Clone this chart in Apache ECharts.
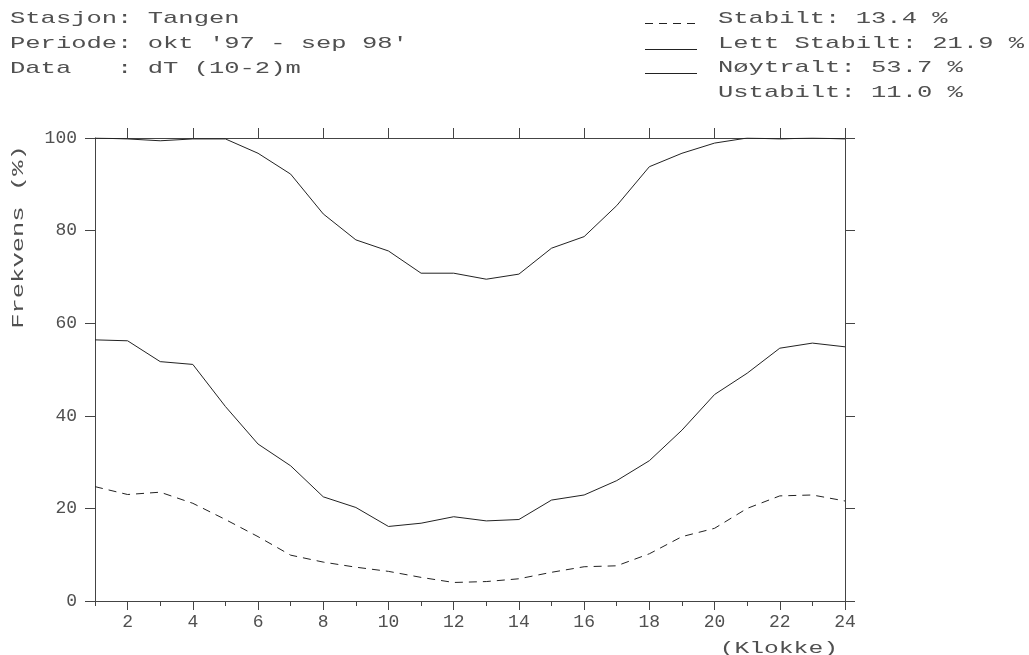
<!DOCTYPE html>
<html>
<head>
<meta charset="utf-8">
<script src="https://cdn.jsdelivr.net/npm/echarts@6/dist/echarts.min.js"></script>
<style>html,body{margin:0;padding:0;background:#fff}#c{width:1029px;height:655px}</style>
</head>
<body>
<div id="c"></div>
<script>
// Hours of day
var hours = [1,2,3,4,5,6,7,8,9,10,11,12,13,14,15,16,17,18,19,20,21,22,23,24];
// Cumulative frequency boundaries (%)
var stabilt = [24.7,23.0,23.5,21.1,17.6,13.9,9.9,8.4,7.3,6.4,5.1,4.0,4.2,4.8,6.2,7.4,7.6,10.2,13.9,15.7,20.0,22.7,22.9,21.6];
var lettStabilt = [56.4,56.2,51.7,51.1,42.0,33.9,29.2,22.5,20.2,16.1,16.8,18.2,17.3,17.6,21.8,22.9,26.0,30.3,36.9,44.6,49.2,54.6,55.7,54.9];
var noytralt = [100,99.8,99.4,99.8,99.8,96.7,92.2,83.6,78.0,75.6,70.8,70.8,69.5,70.6,76.2,78.7,85.4,93.8,96.7,98.9,100,99.8,100,99.8];
// Legend classes and overall shares
var classNames = ['Stabilt', 'Lett Stabilt', 'Nøytralt', 'Ustabilt'];
var classPct = ['13.4', '21.9', '53.7', '11.0'];
// Tick values
var majorTicks = [2,4,6,8,10,12,14,16,18,20,22,24];
var minorTicks = [1,3,5,7,9,11,13,15,17,19,21,23];
var headerLines = ["Stasjon: Tangen", "Periode: okt '97 - sep 98'", "Data   : dT (10-2)m"];

var FONT = 'Liberation Mono';
var TXT = '#505050';
var AX = '#444';
var LINE = '#222';

function pairs(v){ return hours.map(function(h,i){ return [h, v[i]]; }); }

var chart = echarts.init(document.getElementById('c'), null, {renderer:'canvas'});

var g = [];
var headY = [18, 43, 68];
headerLines.forEach(function(t, i){
  g.push({type:'text', x:10, y:headY[i], scaleX:1.5, silent:true,
    style:{text:t, font:'17px "' + FONT + '"', fill:TXT, textAlign:'left', textVerticalAlign:'middle', align:'left', verticalAlign:'middle'}});
});
var legY = [18, 43, 67, 92];
classNames.forEach(function(n, i){
  g.push({type:'text', x:718, y:legY[i], scaleX:1.5, silent:true,
    style:{text:n + ': ' + classPct[i] + ' %', font:'17px "' + FONT + '"', fill:TXT, textAlign:'left', textVerticalAlign:'middle', align:'left', verticalAlign:'middle'}});
});
// legend samples
g.push({type:'line', silent:true, shape:{x1:645, y1:23.5, x2:697, y2:23.5}, style:{stroke:LINE, lineWidth:1, lineDash:[8,6]}});
g.push({type:'line', silent:true, shape:{x1:645, y1:49.5, x2:697, y2:49.5}, style:{stroke:LINE, lineWidth:1}});
g.push({type:'line', silent:true, shape:{x1:645, y1:73.5, x2:697, y2:73.5}, style:{stroke:LINE, lineWidth:1}});
// axis names
g.push({type:'text', x:18, y:237, rotation:Math.PI/2, scaleX:1.5, silent:true,
  style:{text:'Frekvens (%)', font:'17px "' + FONT + '"', fill:TXT, textAlign:'center', textVerticalAlign:'middle', align:'center', verticalAlign:'middle'}});
g.push({type:'text', x:838, y:648, scaleX:1.45, silent:true,
  style:{text:'(Klokke)', font:'17px "' + FONT + '"', fill:TXT, textAlign:'right', textVerticalAlign:'middle', align:'right', verticalAlign:'middle'}});

var gridRect = {left:95, right:184, top:138, bottom:54, containLabel:false};

var option = {
  animation:false,
  backgroundColor:'#fff',
  grid:[Object.assign({}, gridRect), Object.assign({}, gridRect)],
  xAxis:[
    {type:'value', gridIndex:0, position:'bottom', min:1, max:24,
      axisLine:{show:true, onZero:false, lineStyle:{color:AX, width:1}},
      axisTick:{show:true, inside:false, length:9, customValues:majorTicks, lineStyle:{color:AX}},
      axisLabel:{show:true, customValues:majorTicks, margin:12, fontFamily:FONT, fontSize:18, color:TXT},
      splitLine:{show:false}},
    {type:'value', gridIndex:0, position:'top', min:1, max:24,
      axisLine:{show:true, onZero:false, lineStyle:{color:AX, width:1}},
      axisTick:{show:true, inside:false, length:10, customValues:majorTicks, lineStyle:{color:AX}},
      axisLabel:{show:false}, splitLine:{show:false}},
    {type:'value', gridIndex:1, position:'bottom', min:1, max:24,
      axisLine:{show:false, onZero:false},
      axisTick:{show:true, inside:false, length:5, customValues:minorTicks, lineStyle:{color:AX}},
      axisLabel:{show:false}, splitLine:{show:false}}
  ],
  yAxis:[
    {type:'value', gridIndex:0, position:'left', min:0, max:100, interval:20,
      axisLine:{show:true, onZero:false, lineStyle:{color:AX, width:1}},
      axisTick:{show:true, inside:false, length:10, lineStyle:{color:AX}},
      axisLabel:{show:true, margin:18, fontFamily:FONT, fontSize:18, color:TXT},
      splitLine:{show:false}},
    {type:'value', gridIndex:0, position:'right', min:0, max:100, interval:20,
      axisLine:{show:true, onZero:false, lineStyle:{color:AX, width:1}},
      axisTick:{show:true, inside:false, length:10, lineStyle:{color:AX}},
      axisLabel:{show:false}, splitLine:{show:false}},
    {type:'value', gridIndex:1, min:0, max:100, show:false}
  ],
  series:[
    {name:classNames[0], type:'line', xAxisIndex:0, yAxisIndex:0, data:pairs(stabilt), symbol:'none',
      lineStyle:{color:LINE, width:1, type:[8,6]}, silent:true},
    {name:classNames[1], type:'line', xAxisIndex:0, yAxisIndex:0, data:pairs(lettStabilt), symbol:'none',
      lineStyle:{color:LINE, width:1}, silent:true},
    {name:classNames[2], type:'line', xAxisIndex:0, yAxisIndex:0, data:pairs(noytralt), symbol:'none',
      lineStyle:{color:LINE, width:1}, silent:true}
  ],
  graphic:g
};
chart.setOption(option);
</script>
</body>
</html>
